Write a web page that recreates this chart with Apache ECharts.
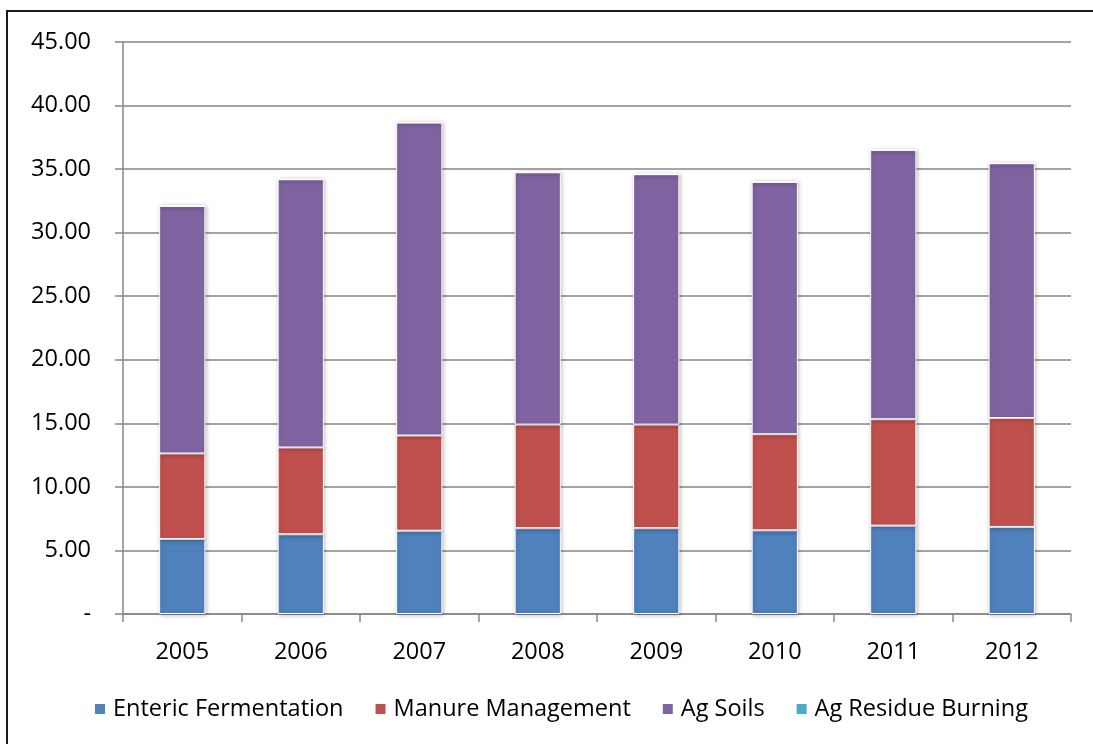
<!DOCTYPE html>
<html>
<head>
<meta charset="utf-8">
<script src="https://cdn.jsdelivr.net/npm/echarts@6/dist/echarts.min.js"></script>
<style>
html,body{margin:0;padding:0;background:#fff;}
#chart{width:1093px;height:744px;}
</style>
</head>
<body>
<div id="chart"></div>
<script>
const years = ['2005','2006','2007','2008','2009','2010','2011','2012'];
const entericFermentation = [5.90, 6.27, 6.55, 6.75, 6.75, 6.58, 6.95, 6.85];
const manureManagement = [6.73, 6.83, 7.49, 8.15, 8.15, 7.56, 8.37, 8.57];
const agSoils = [19.47, 21.10, 24.62, 19.85, 19.70, 19.85, 21.18, 20.04];
const agResidueBurning = [0.02, 0.02, 0.02, 0.02, 0.02, 0.02, 0.02, 0.02];
const seriesNames = ['Enteric Fermentation', 'Manure Management', 'Ag Soils', 'Ag Residue Burning'];
const seriesColors = ['#4F81BD', '#C0504D', '#8064A2', '#4BACC6'];
const yTicks = { min: 0, max: 45, interval: 5 };

const font = '"Open Sans", "Noto Sans", sans-serif';
const chart = echarts.init(document.getElementById('chart'), null, { renderer: 'canvas' });
const dataSets = [entericFermentation, manureManagement, agSoils, agResidueBurning];

chart.setOption({
  backgroundColor: '#fff',
  animation: false,
  textStyle: { fontFamily: font, color: '#000' },
  graphic: [{
    type: 'rect',
    shape: { x: 7, y: 11, width: 1200, height: 900 },
    style: { fill: 'none', stroke: '#1a1a1a', lineWidth: 2 },
    silent: true
  }],
  grid: { left: 123, top: 42, right: 22, bottom: 130, containLabel: false },
  legend: {
    data: seriesNames,
    left: 88,
    top: 692,
    itemWidth: 12,
    itemHeight: 12,
    itemGap: 30,
    icon: 'rect',
    textStyle: { fontFamily: font, fontSize: 23.5, color: '#000', padding: [0, 0, 0, 2] }
  },
  xAxis: {
    type: 'category',
    data: years,
    axisLine: { lineStyle: { color: '#868686', width: 1.5 } },
    axisTick: { show: true, length: 8, alignWithLabel: false, lineStyle: { color: '#868686', width: 1.5 } },
    axisLabel: { fontFamily: font, fontSize: 23.5, color: '#000', margin: 26 }
  },
  yAxis: {
    type: 'value',
    min: yTicks.min,
    max: yTicks.max,
    interval: yTicks.interval,
    axisLine: { show: true, lineStyle: { color: '#868686', width: 1.5 } },
    axisTick: { show: true, length: 8, lineStyle: { color: '#868686', width: 1.5 } },
    splitLine: { show: true, lineStyle: { color: '#868686', width: 1.5 } },
    axisLabel: {
      fontFamily: font, fontSize: 23.5, color: '#000', margin: 32,
      formatter: v => v === 0 ? '-' : v.toFixed(2)
    }
  },
  series: dataSets.map((d, i) => ({
    name: seriesNames[i],
    type: 'bar',
    stack: 'total',
    data: d,
    barWidth: '39%',
    itemStyle: {
      color: seriesColors[i],
      borderColor: '#ffffff',
      borderWidth: 1,
      shadowBlur: 4,
      shadowColor: 'rgba(0,0,0,0.25)',
      shadowOffsetX: 1,
      shadowOffsetY: 1
    }
  }))
});
</script>
</body>
</html>
